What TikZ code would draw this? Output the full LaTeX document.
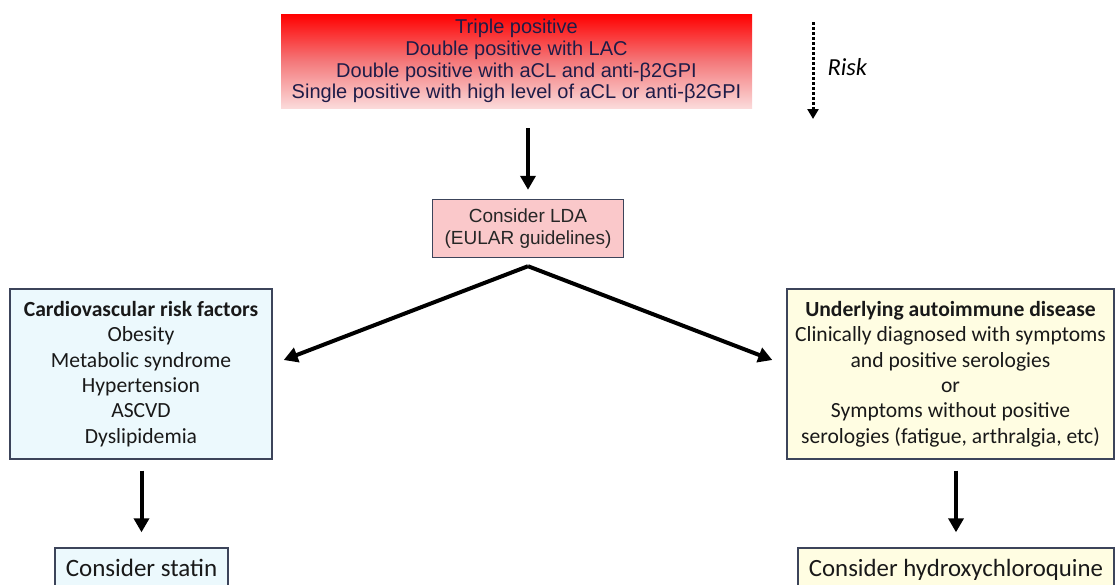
\documentclass[tikz,border=0pt]{standalone}
\usepackage{fontspec}
\setmainfont{Liberation Sans}
\newfontfamily\calibrifont{Carlito}
\usetikzlibrary{arrows.meta,calc}
\definecolor{navytext}{RGB}{30,28,72}
\definecolor{ldafill}{RGB}{250,200,202}
\definecolor{cvfill}{RGB}{236,249,253}
\definecolor{adfill}{RGB}{255,253,226}
\definecolor{boxline}{RGB}{60,68,90}
\definecolor{pinkbot}{RGB}{251,218,218}
\definecolor{pinkmid}{RGB}{244,120,122}
\tikzset{
  bigarrow/.style={line width=4pt,-{Triangle[width=15pt,length=14pt]}},
  riskarrow/.style={line width=3pt,dotted,-{Triangle[width=11pt,length=10pt]}},
  boxbase/.style={draw=boxline,line width=1.4pt,align=center,inner sep=0pt},
  toptext/.style={font=\fontsize{20}{21.7}\selectfont,text=navytext},
  lowtext/.style={font=\calibrifont\fontsize{21.6}{25.4}\selectfont,text=black!90},
}
\begin{document}
\begin{tikzpicture}[x=1pt,y=-1pt]
\useasboundingbox (0,0) rectangle (1116,584);
\clip (0,0) rectangle (1116,584);
% top box
\node[toptext,align=center,minimum width=471pt,minimum height=94pt,inner sep=0pt,
      top color=red,bottom color=pinkbot,middle color=pinkmid] (top) at (516.5,61)
  {Triple positive\\Double positive with LAC\\Double positive with aCL and anti-β2GPI\\Single positive with high level of aCL or anti-β2GPI};
% risk
\coordinate (riskA) at (813,22);
\coordinate (riskB) at (813,119);
\draw[riskarrow] (riskA) -- (riskB);
\node[font=\calibrifont\itshape\fontsize{24.5}{28}\selectfont,anchor=west] (risk) at (824,67) {Risk};
% LDA
\node[boxbase,fill=ldafill,minimum width=191pt,minimum height=58pt,
      font=\fontsize{19}{22.5}\selectfont,text=black!85] (lda) at (528,228.5)
  {Consider LDA\\(EULAR guidelines)};
% left and right boxes
\node[boxbase,fill=cvfill,minimum width=262pt,minimum height=170pt,lowtext] (cv) at (141,374)
  {\textbf{Cardiovascular risk factors}\\Obesity\\Metabolic syndrome\\Hypertension\\ASCVD\\Dyslipidemia};
\node[boxbase,fill=adfill,minimum width=327pt,minimum height=170pt,lowtext] (ad) at (950.5,374)
  {\textbf{Underlying autoimmune disease}\\Clinically diagnosed with symptoms\\and positive serologies\\or\\Symptoms without positive\\serologies (fatigue, arthralgia, etc)};
% bottom boxes
\node[boxbase,fill=cvfill,minimum width=173pt,minimum height=44pt,
      font=\calibrifont\fontsize{25}{28}\selectfont,text=black!90] (statin) at (141.5,570)
  {Consider statin\vphantom{y}};
\node[boxbase,fill=adfill,minimum width=316pt,minimum height=44pt,
      font=\calibrifont\fontsize{24.8}{28}\selectfont,text=black!90] (hcq) at (956,570)
  {Consider hydroxychloroquine};
% arrows
\draw[bigarrow,shorten <=20pt,shorten >=9pt] (top.south -| lda.north) -- (lda.north);
\draw[bigarrow] ($(lda.south)+(0,8)$) -- ($(cv.east)+(11,-14)$);
\draw[bigarrow] ($(lda.south)+(0,8)$) -- ($(ad.west)+(-14,-14)$);
\draw[bigarrow,shorten <=11pt,shorten >=15pt] (cv.south -| statin.north) -- (statin.north);
\draw[bigarrow,shorten <=11pt,shorten >=15pt] (ad.south -| hcq.north) -- (hcq.north);
\end{tikzpicture}
\end{document}
